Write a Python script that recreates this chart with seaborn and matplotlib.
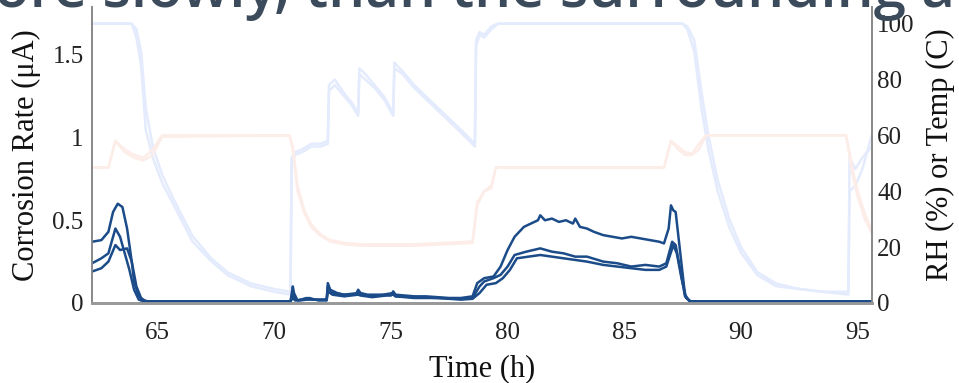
import numpy as np
import pandas as pd
import matplotlib
matplotlib.use("Agg")
import matplotlib.pyplot as plt
import seaborn as sns

# ---- relative humidity (%) – two sensors ----
rh_time = [62.2, 63.9, 64.1, 64.3, 64.5, 64.8, 65.2, 65.7, 66.5, 67.3, 68.0, 69.0, 70.0, 70.7,
           70.75, 70.9, 71.2, 71.6, 72.0, 72.3, 72.35, 72.6, 73.0, 73.3, 73.6, 73.65, 73.9, 74.3,
           74.7, 75.1, 75.15, 75.5, 76.0, 76.5, 77.0, 77.5, 78.0, 78.6, 78.65, 78.8, 79.0, 79.3,
           79.6, 87.5, 87.7, 88.0, 88.3, 88.6, 89.0, 89.5, 90.0, 90.7, 91.5, 92.5, 93.5, 94.6,
           94.65, 94.9, 95.2, 95.6]
rh_1 = [100, 100, 95, 85, 62, 52, 43, 35, 22, 15, 10, 6, 4, 3,
        52, 54, 55, 57, 57, 58, 78, 80, 75, 72, 68, 84, 82, 78,
        74, 68, 86, 83, 78, 74, 70, 66, 62, 57, 94, 97, 96, 99,
        100, 100, 98, 90, 70, 55, 40, 27, 18, 10, 6, 5, 4, 3,
        52, 48, 52, 56]
rh_2 = [100, 100, 98, 90, 70, 56, 46, 37, 24, 16, 11, 7, 5, 4,
        50, 53, 54, 56, 56, 57, 76, 78, 74, 71, 67, 82, 80, 77,
        73, 67, 84, 82, 77, 73, 69, 65, 61, 56, 92, 96, 95, 98,
        100, 100, 99, 94, 76, 60, 44, 30, 20, 11, 7, 5, 4, 4,
        40, 42, 48, 60]

# ---- temperature (C) – two sensors ----
t_time = [62.2, 62.9, 63.2, 63.6, 64.0, 64.4, 64.8, 65.2, 70.65, 70.8, 71.0, 71.3, 71.6, 72.0,
          72.4, 73.0, 73.8, 76.0, 78.5, 78.7, 79.0, 79.3, 79.5, 86.7, 87.0, 87.3, 87.6, 87.9,
          88.2, 88.5, 94.5, 94.6, 94.8, 95.0, 95.3, 95.6]
temp_1 = [48.5, 48.5, 58, 55, 53, 52, 55, 60, 60, 55, 40, 32, 27, 24,
          22, 21, 20.5, 20.5, 21.5, 35, 40, 41, 48.5, 48.5, 58, 56, 54, 53.5,
          57, 60, 60, 55, 45, 38, 30, 25]
temp_2 = [48.5, 48.5, 58, 54, 52, 51, 53, 59.5, 60, 56, 42, 33, 28, 24.5,
          22.5, 21.5, 21, 21, 22, 36, 40, 42, 48.5, 48.5, 58, 55, 53, 53,
          55, 60, 60, 56, 47, 40, 32, 26]

# ---- corrosion rate (uA) – three probes ----
ca_time = [62.2, 62.6, 62.9, 63.1, 63.3, 63.5, 63.7, 63.9, 64.0, 64.2, 64.4, 64.6, 70.7, 70.8,
           70.85, 71.0, 71.4, 71.7, 72.25, 72.3, 72.4, 72.7, 73.0, 73.5, 73.6, 73.7, 74.0, 74.5,
           75.0, 75.1, 75.2, 75.6, 76.0, 76.5, 77.0, 77.5, 78.0, 78.5, 78.7, 79.0, 79.4, 79.7,
           80.0, 80.3, 80.7, 81.0, 81.3, 81.4, 81.6, 81.9, 82.2, 82.5, 82.8, 82.9, 83.1, 83.4,
           83.7, 84.1, 84.5, 84.9, 85.3, 85.7, 86.1, 86.5, 86.7, 86.9, 87.0, 87.1, 87.2, 87.4,
           87.6, 87.8, 95.6]
corr_a = [0.37, 0.38, 0.43, 0.55, 0.60, 0.58, 0.45, 0.25, 0.13, 0.04, 0.015, 0.01, 0.01, 0.10,
          0.06, 0.015, 0.03, 0.02, 0.02, 0.12, 0.08, 0.06, 0.05, 0.05, 0.08, 0.06, 0.05, 0.05,
          0.045, 0.07, 0.05, 0.045, 0.04, 0.04, 0.035, 0.03, 0.03, 0.04, 0.12, 0.15, 0.16, 0.22,
          0.32, 0.40, 0.46, 0.48, 0.50, 0.53, 0.50, 0.51, 0.49, 0.50, 0.48, 0.51, 0.46, 0.45,
          0.43, 0.41, 0.40, 0.39, 0.40, 0.39, 0.38, 0.37, 0.36, 0.45, 0.59, 0.56, 0.55, 0.30,
          0.05, 0.01, 0.01]

cb_time = [62.2, 62.6, 62.9, 63.2, 63.4, 63.6, 63.8, 64.0, 64.2, 64.4, 70.7, 70.8, 70.9, 71.1,
           71.4, 71.8, 72.25, 72.3, 72.5, 73.0, 73.6, 73.7, 74.2, 75.1, 75.2, 76.0, 77.0, 78.0,
           78.5, 78.8, 79.0, 79.4, 79.7, 80.0, 80.3, 80.8, 81.4, 81.9, 82.4, 82.9, 83.4, 84.1,
           84.7, 85.3, 85.9, 86.5, 86.8, 87.05, 87.2, 87.4, 87.6, 87.8, 95.6]
corr_b = [0.24, 0.27, 0.30, 0.45, 0.40, 0.30, 0.20, 0.08, 0.02, 0.01, 0.01, 0.05, 0.02, 0.015,
          0.02, 0.02, 0.02, 0.10, 0.06, 0.05, 0.06, 0.05, 0.04, 0.06, 0.04, 0.035, 0.03, 0.025,
          0.03, 0.10, 0.13, 0.15, 0.17, 0.22, 0.29, 0.31, 0.33, 0.31, 0.30, 0.28, 0.28, 0.25,
          0.24, 0.22, 0.23, 0.22, 0.24, 0.37, 0.35, 0.20, 0.04, 0.01, 0.01]

cc_time = [62.2, 62.6, 62.9, 63.2, 63.4, 63.7, 63.9, 64.1, 64.3, 64.5, 70.7, 70.8, 70.9, 71.2,
           71.5, 71.9, 72.25, 72.3, 72.5, 73.0, 73.6, 73.7, 74.2, 75.1, 75.2, 76.0, 77.0, 78.0,
           78.5, 78.8, 79.1, 79.5, 79.8, 80.1, 80.4, 80.9, 81.4, 81.9, 82.4, 82.9, 83.4, 84.1,
           84.7, 85.3, 85.9, 86.5, 86.8, 87.1, 87.25, 87.45, 87.65, 87.85, 95.6]
corr_c = [0.19, 0.21, 0.25, 0.35, 0.32, 0.33, 0.25, 0.10, 0.03, 0.01, 0.01, 0.03, 0.015, 0.02,
          0.03, 0.015, 0.015, 0.07, 0.05, 0.04, 0.05, 0.045, 0.035, 0.05, 0.04, 0.03, 0.03, 0.02,
          0.025, 0.06, 0.11, 0.12, 0.15, 0.20, 0.27, 0.28, 0.29, 0.28, 0.27, 0.26, 0.25, 0.23,
          0.22, 0.21, 0.20, 0.20, 0.22, 0.35, 0.30, 0.15, 0.03, 0.01, 0.01]

x_ticks = [65, 70, 75, 80, 85, 90, 95]
left_ticks = [0, 0.5, 1, 1.5]
left_tick_labels = ["0", "0.5", "1", "1.5"]
right_ticks = [0, 20, 40, 60, 80, 100]

sns.set_theme(style="white")
serif = ["Liberation Serif", "DejaVu Serif"]

fig = plt.figure(figsize=(9.59, 3.83), dpi=100)
ax = fig.add_axes([0.096, 0.209, 0.813, 0.773])
ax2 = ax.twinx()

rh_color = "#e4ebfd"
t_color = "#fdede9"
c_color = "#1b4c89"

for vals in (rh_1, rh_2):
    sns.lineplot(x=rh_time, y=vals, ax=ax2, color=rh_color, lw=1.8,
                 estimator=None, sort=False)
for vals in (temp_1, temp_2):
    sns.lineplot(x=t_time, y=vals, ax=ax2, color=t_color, lw=1.8,
                 estimator=None, sort=False)
for tt, vals in ((ca_time, corr_a), (cb_time, corr_b), (cc_time, corr_c)):
    sns.lineplot(x=tt, y=vals, ax=ax, color=c_color, lw=1.8,
                 estimator=None, sort=False)

# corrosion traces on top of the environment traces
ax.set_zorder(ax2.get_zorder() + 1)
ax.patch.set_visible(False)

ax.set_xlim(62.2, 95.6)
ax.set_ylim(0, 1.79)
ax2.set_ylim(0, 106)

tick_font = dict(fontfamily=serif, fontsize=18, color="#222222")
ax.set_xticks(x_ticks)
ax.set_xticklabels([str(v) for v in x_ticks], **tick_font)
ax.set_yticks(left_ticks)
ax.set_yticklabels(left_tick_labels, **tick_font)
ax2.set_yticks(right_ticks)
ax2.set_yticklabels([str(v) for v in right_ticks], **tick_font)

ax.tick_params(axis="x", length=0, pad=14)
ax.tick_params(axis="y", length=0, pad=6)
ax2.tick_params(axis="y", length=0, pad=4)

label_font = dict(fontfamily=serif, fontsize=22, color="#111111")
ax.set_xlabel("Time (h)", labelpad=7, **label_font)
ax.set_ylabel("Corrosion Rate (μA)", labelpad=8, **label_font)
ax2.set_ylabel("RH (%) or Temp (C)", rotation=90, labelpad=8, **label_font)

for a in (ax, ax2):
    a.spines["top"].set_visible(False)
    a.spines["left"].set_color("#888888")
    a.spines["right"].set_color("#888888")
    a.spines["left"].set_linewidth(1.2)
    a.spines["right"].set_linewidth(1.2)
    a.spines["bottom"].set_color("#999999")
    a.spines["bottom"].set_linewidth(2.0)

# slide caption running above the chart, clipped by the top edge
fig.text(-0.006, 0.982, "ore slowly, than the surrounding ai", fontfamily="Open Sans",
         fontweight="semibold", fontsize=42, color="#3c4b5c", va="baseline", ha="left")

fig.savefig("out.png", dpi=100)
